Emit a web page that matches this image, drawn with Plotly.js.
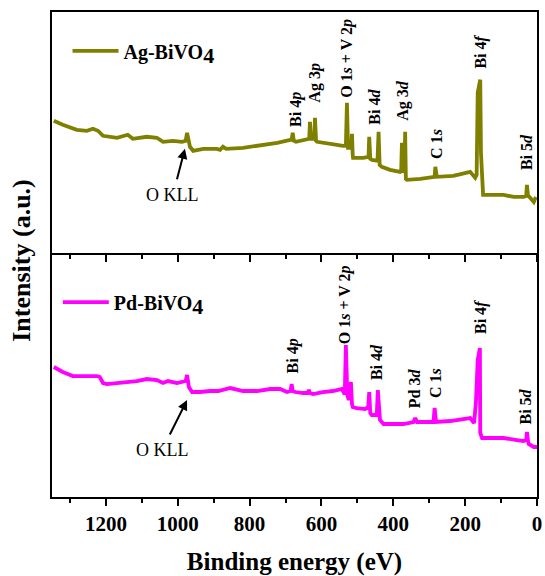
<!DOCTYPE html>
<html>
<head>
<meta charset="utf-8">
<script src="https://cdn.plot.ly/plotly-3.0.1.min.js"></script>
<style>html,body{margin:0;padding:0;background:#fff;}#chart{width:545px;height:576px;}</style>
</head>
<body>
<div id="chart"></div>
<script>
// Binding energy (eV) and intensity (a.u.)
const agEnergy = [1345,1320,1281,1253,1236,1222,1208,1169,1139,1125,1086,1058,1041,1013,988,978,974,970,966,957,929,891,882,874,865,818,771,723,687,683,680,677,671,641,634,632,629,626,620,618,615,612,585,557,540,532,529,527,526,517,515,513,512,484,473,469,467,464,459,444,441,438,432,409,381,378,376,374,373,369,367,365,362,325,289,285,283,281,279,233,195,186,172,168,165,161,158,156,153,150,121,93,65,37,30,28,25,21,9,3];
const agIntensity = [132,128,123,122,124,122,117,115,118,114,116,115,111,112,111,112,120,110,106,102,104,104,103,106,104,105,107,110,113,113,120,112,111,114,114,131,114,114,114,135,112,111,110,108,107,107,150,105,105,105,119,98,95,95,96,96,116,94,93,92,121,88,86,83,81,82,110,81,81,82,121,74,73,74,76,76,86,76,76,77,80,81,75,78,160,168,173,100,66,58,58,58,56,56,57,68,57,56,51,56];

const pdEnergy = [1345,1320,1292,1264,1225,1217,1208,1197,1169,1141,1114,1086,1058,1041,1027,1002,985,978,974,969,960,938,910,887,854,818,779,743,715,696,686,683,680,673,651,638,635,632,623,596,568,543,537,535,532,529,528,524,518,515,513,502,478,474,470,467,464,460,451,446,443,440,437,427,409,372,344,339,334,297,288,285,282,281,242,205,186,175,170,165,161,159,158,153,121,93,56,37,30,28,25,23,9,0];
const pdIntensity = [130,125,121,121,121,120,114,113,114,115,116,118,117,114,116,114,115,116,122,110,105,105,106,106,109,106,106,108,108,105,106,113,106,105,104,104,107,104,103,105,106,108,104,104,152,104,102,97,115,93,90,89,88,89,89,105,84,82,82,82,107,80,77,73,73,73,75,79,75,75,75,89,75,75,76,78,79,74,95,137,149,149,64,59,59,59,57,56,57,65,56,53,50,50];

const topLabels = ['Bi 4<i>p</i>','Ag 3<i>p</i>','O 1<i>s</i> + V 2<i>p</i>','Bi 4<i>d</i>','Ag 3<i>d</i>','C 1<i>s</i>','Bi 4<i>f</i>','Bi 5<i>d</i>'];
const bottomLabels = ['Bi 4<i>p</i>','O 1<i>s</i> + V 2<i>p</i>','Bi 4<i>d</i>','Pd 3<i>d</i>','C 1<i>s</i>','Bi 4<i>f</i>','Bi 5<i>d</i>'];

const SERIF = 'Liberation Serif, Times New Roman, serif';

const traces = [
  {x: agEnergy, y: agIntensity, xaxis: 'x2', yaxis: 'y2', type: 'scatter', mode: 'lines',
   name: 'Ag-BiVO<sub><span style="font-size:22px">4</span></sub>', legend: 'legend',
   line: {color: '#808000', width: 3.8}},
  {x: pdEnergy, y: pdIntensity, xaxis: 'x', yaxis: 'y', type: 'scatter', mode: 'lines',
   name: 'Pd-BiVO<sub><span style="font-size:22px">4</span></sub>', legend: 'legend2',
   line: {color: '#ff00ff', width: 3.8}}
];

const labelFont = {family: SERIF, size: 16, color: '#000', weight: 'bold'};
const topPos = [[673,143],[618,170],[531,194],[451,146],[373,152],[278,109],[156,201],[27,101]];
const botPos = [[678,141],[534,192],[448,135],[342,109],[284,114],[156,180],[32,90]];

const annotations = [];
topLabels.forEach((t, i) => annotations.push({text: '<b>' + t + '</b>', x: topPos[i][0], y: topPos[i][1], xref: 'x2', yref: 'y2',
  showarrow: false, textangle: -90, xanchor: 'center', yanchor: 'middle', font: labelFont}));
bottomLabels.forEach((t, i) => annotations.push({text: '<b>' + t + '</b>', x: botPos[i][0], y: botPos[i][1], xref: 'x', yref: 'y',
  showarrow: false, textangle: -90, xanchor: 'center', yanchor: 'middle', font: labelFont}));
annotations.push({text: 'O KLL', x: 980, y: 104, xref: 'x2', yref: 'y2', ax: -12, ay: 46, showarrow: true,
  arrowhead: 2, arrowsize: 1, arrowwidth: 2, arrowcolor: '#000', borderpad: 5, font: {family: SERIF, size: 18, color: '#000'}});
annotations.push({text: 'O KLL', x: 974, y: 97, xref: 'x', yref: 'y', ax: -25, ay: 50, showarrow: true,
  arrowhead: 2, arrowsize: 1, arrowwidth: 2, arrowcolor: '#000', borderpad: 5, font: {family: SERIF, size: 18, color: '#000'}});
annotations.push({text: '<b>Intensity (a.u.)</b>', x: -0.062, y: 0.489, xref: 'paper', yref: 'paper', showarrow: false,
  textangle: -90, xanchor: 'center', yanchor: 'middle', font: {family: SERIF, size: 26, color: '#000'}});

const xCommon = {range: [1350, 0], dtick: 200, tick0: 0, showgrid: false, zeroline: false,
  showline: true, linewidth: 2, linecolor: '#000', ticks: 'outside', ticklen: 7, tickwidth: 2, tickcolor: '#000',
  minor: {dtick: 100, tick0: 0, ticks: 'outside', ticklen: 4, tickwidth: 2, tickcolor: '#000', showgrid: false}};

const layout = {
  width: 545, height: 576, margin: {l: 52, r: 8, t: 12, b: 79},
  paper_bgcolor: '#fff', plot_bgcolor: '#fff', showlegend: true,
  font: {family: SERIF, color: '#000'},
  xaxis: Object.assign({}, xCommon, {anchor: 'y', domain: [0, 1], mirror: false,
    tickfont: {family: SERIF, size: 21, color: '#000', weight: 'bold'},
    title: {text: '<b>Binding energy (eV)</b>', font: {family: SERIF, size: 25, color: '#000'}, standoff: 19}}),
  xaxis2: Object.assign({}, xCommon, {anchor: 'y2', domain: [0, 1], matches: 'x', mirror: true, showticklabels: false}),
  yaxis: {domain: [0, 0.503], range: [0, 244], showticklabels: false, ticks: '', showgrid: false, zeroline: false,
    showline: true, linewidth: 2, linecolor: '#000', mirror: true},
  yaxis2: {domain: [0.503, 1], range: [0, 240.5], showticklabels: false, ticks: '', showgrid: false, zeroline: false,
    showline: true, linewidth: 2, linecolor: '#000', mirror: true},
  legend: {x: 0.032, y: 0.96, xanchor: 'left', yanchor: 'top', bgcolor: 'rgba(0,0,0,0)', itemwidth: 46,
    font: {family: SERIF, size: 20, color: '#000', weight: 'bold'}},
  legend2: {x: 0.012, y: 0.442, xanchor: 'left', yanchor: 'top', bgcolor: 'rgba(0,0,0,0)', itemwidth: 46,
    font: {family: SERIF, size: 20, color: '#000', weight: 'bold'}},
  annotations: annotations
};

Plotly.newPlot('chart', traces, layout, {displayModeBar: false, staticPlot: true});
</script>
</body>
</html>
